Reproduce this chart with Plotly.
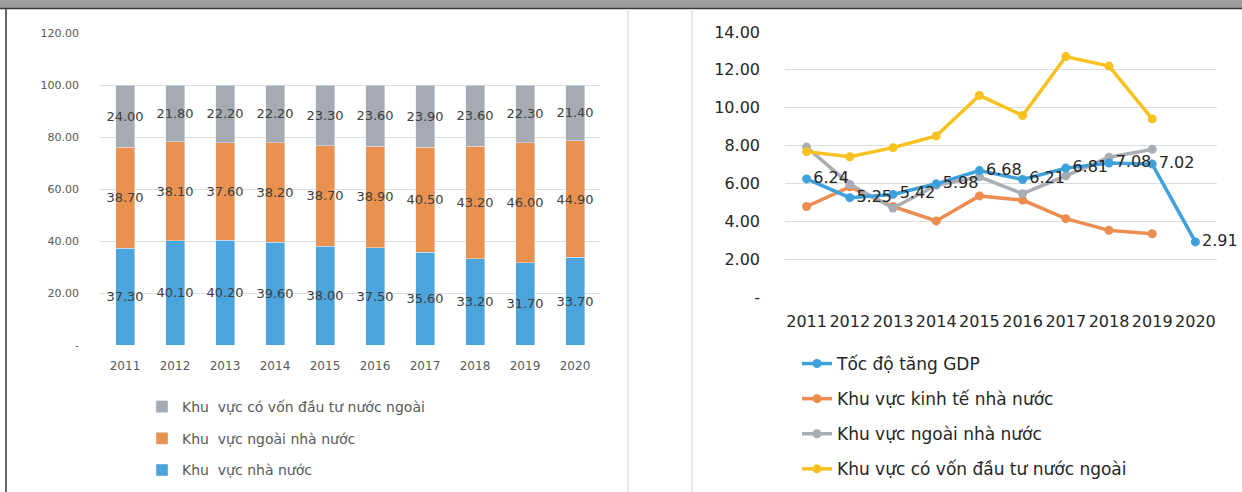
import plotly.graph_objects as go

# ---------------- data ----------------
years = ["2011", "2012", "2013", "2014", "2015", "2016", "2017", "2018", "2019", "2020"]

# left: structure (%)
state_share = [37.30, 40.10, 40.20, 39.60, 38.00, 37.50, 35.60, 33.20, 31.70, 33.70]
nonstate_share = [38.70, 38.10, 37.60, 38.20, 38.70, 38.90, 40.50, 43.20, 46.00, 44.90]
fdi_share = [24.00, 21.80, 22.20, 22.20, 23.30, 23.60, 23.90, 23.60, 22.30, 21.40]

# right: growth (%)
gdp_growth = [6.24, 5.25, 5.42, 5.98, 6.68, 6.21, 6.81, 7.08, 7.02, 2.91]
state_growth = [4.78, 5.82, 4.78, 4.02, 5.34, 5.12, 4.14, 3.52, 3.34, None]
nonstate_growth = [7.92, 5.95, 4.70, 5.90, 6.35, 5.46, 6.40, 7.38, 7.80, None]
fdi_growth = [7.68, 7.41, 7.89, 8.51, 10.65, 9.59, 12.70, 12.20, 9.41, None]

left_ticks = [0, 20, 40, 60, 80, 100, 120]
left_ticktext = ["-", "20.00", "40.00", "60.00", "80.00", "100.00", "120.00"]
right_ticks = [0, 2, 4, 6, 8, 10, 12, 14]
right_ticktext = ["-", "2.00", "4.00", "6.00", "8.00", "10.00", "12.00", "14.00"]

# ---------------- styles ----------------
W, H = 1242, 492
C_BLUE = "#4BA4DC"
C_ORANGE = "#E9914F"
C_GRAY = "#A6ABB2"
L_BLUE = "#3FA1DC"
L_ORANGE = "#EC8C4F"
L_GRAY = "#A9ADB4"
L_YELLOW = "#F7C21E"
GRID = "#DADDE2"
TXT_L = "#595959"
TXT_R = "#262626"
FONT = "DejaVu Sans"

def px(x):
    return x / W

def py(y):
    return 1 - y / H

fig = go.Figure()

bar_common = dict(
    xaxis="x", yaxis="y", width=0.38, textposition="inside",
    insidetextanchor="middle", textangle=0, constraintext="none",
    texttemplate="%{y:.2f}", textfont=dict(color="#404040", size=13, family=FONT),
    legend="legend", hoverinfo="skip",
)
fig.add_trace(go.Bar(x=years, y=state_share, name="Khu  vực nhà nước",
                     marker_color=C_BLUE, legendgroup="a", legendrank=3, **bar_common))
fig.add_trace(go.Bar(x=years, y=nonstate_share, name="Khu  vực ngoài nhà nước",
                     marker_color=C_ORANGE, legendgroup="b", legendrank=2, **bar_common))
fig.add_trace(go.Bar(x=years, y=fdi_share, name="Khu  vực có vốn đầu tư nước ngoài",
                     marker_color=C_GRAY, legendgroup="c", legendrank=1, **bar_common))

line_common = dict(xaxis="x2", yaxis="y2", legend="legend2", hoverinfo="skip",
                   line=dict(width=3.5), marker=dict(size=9))
fig.add_trace(go.Scatter(x=years, y=state_growth, name="Khu vực kinh tế nhà nước",
                         mode="lines+markers", line_color=L_ORANGE, marker_color=L_ORANGE,
                         legendgroup="g2", legendrank=2, **line_common))
fig.add_trace(go.Scatter(x=years, y=nonstate_growth, name="Khu vực ngoài nhà nước",
                         mode="lines+markers", line_color=L_GRAY, marker_color=L_GRAY,
                         legendgroup="g3", legendrank=3, **line_common))
fig.add_trace(go.Scatter(x=years, y=fdi_growth, name="Khu vực có vốn đầu tư nước ngoài",
                         mode="lines+markers", line_color=L_YELLOW, marker_color=L_YELLOW,
                         legendgroup="g4", legendrank=4, **line_common))
fig.add_trace(go.Scatter(x=years, y=gdp_growth, name="Tốc độ tăng GDP",
                         mode="lines+markers+text", text=[f"{v:.2f}" for v in gdp_growth],
                         textposition="middle right",
                         textfont=dict(size=16, color=TXT_R, family=FONT),
                         line_color=L_BLUE, marker_color=L_BLUE, legendgroup="g1",
                         legendrank=1, cliponaxis=False, **line_common))

fig.update_layout(
    width=W, height=H, margin=dict(l=0, r=0, t=0, b=0, autoexpand=False),
    paper_bgcolor="white", plot_bgcolor="rgba(0,0,0,0)",
    barmode="stack", font=dict(family=FONT, color=TXT_L),
    xaxis=dict(domain=[px(100), px(600)], anchor="y", type="category",
               range=[-0.5, 9.5], showgrid=False, zeroline=False, showline=False,
               ticks="", tickfont=dict(size=12, color=TXT_L), ticklabelstandoff=12),
    yaxis=dict(domain=[py(345), py(33)], anchor="x", range=[0, 120],
               tickvals=left_ticks, ticktext=left_ticktext, showgrid=True,
               gridcolor=GRID, gridwidth=1, zeroline=False, showline=False,
               ticks="", tickfont=dict(size=11, color=TXT_L), ticklabelstandoff=20),
    xaxis2=dict(domain=[px(785), px(1217)], anchor="y2", type="category",
                range=[-0.5, 9.5], showgrid=False, zeroline=False, showline=False,
                ticks="", tickfont=dict(size=16, color=TXT_R), ticklabelstandoff=13),
    yaxis2=dict(domain=[py(297), py(32)], anchor="x2", range=[0, 14],
                tickvals=right_ticks, ticktext=right_ticktext, showgrid=True,
                gridcolor=GRID, gridwidth=1, zeroline=False, showline=False,
                ticks="", tickfont=dict(size=16, color=TXT_R), ticklabelstandoff=24),
    legend=dict(x=px(142), y=py(391), xanchor="left", yanchor="top",
                traceorder="grouped", tracegroupgap=10.5,
                font=dict(size=14, color=TXT_L), bgcolor="rgba(0,0,0,0)",
                itemwidth=30),
    legend2=dict(x=px(797), y=py(346), xanchor="left", yanchor="top",
                 traceorder="grouped", tracegroupgap=10,
                 font=dict(size=17, color=TXT_R), bgcolor="rgba(0,0,0,0)"),
    showlegend=True,
)

# frame decorations
shapes = [
    dict(type="rect", xref="paper", yref="paper", x0=0, x1=1, y0=py(8), y1=1,
         fillcolor="#9B9C9E", line_width=0, layer="above"),
    dict(type="line", xref="paper", yref="paper", x0=0, x1=1, y0=py(8.5), y1=py(8.5),
         line=dict(color="#3A3A3A", width=1.5), layer="above"),
    dict(type="line", xref="paper", yref="paper", x0=px(6), x1=px(6), y0=0, y1=py(9),
         line=dict(color="#666666", width=2), layer="above"),
    dict(type="line", xref="paper", yref="paper", x0=px(628), x1=px(628), y0=0, y1=py(9),
         line=dict(color="#DCE1E7", width=1.5), layer="above"),
    dict(type="line", xref="paper", yref="paper", x0=px(692), x1=px(692), y0=0, y1=py(9),
         line=dict(color="#DCE1E7", width=1.5), layer="above"),
]
fig.update_layout(shapes=shapes)

fig.write_html("out.html", config={"displayModeBar": False},
               post_script="document.body.style.margin='0';document.body.style.overflow='hidden';")
